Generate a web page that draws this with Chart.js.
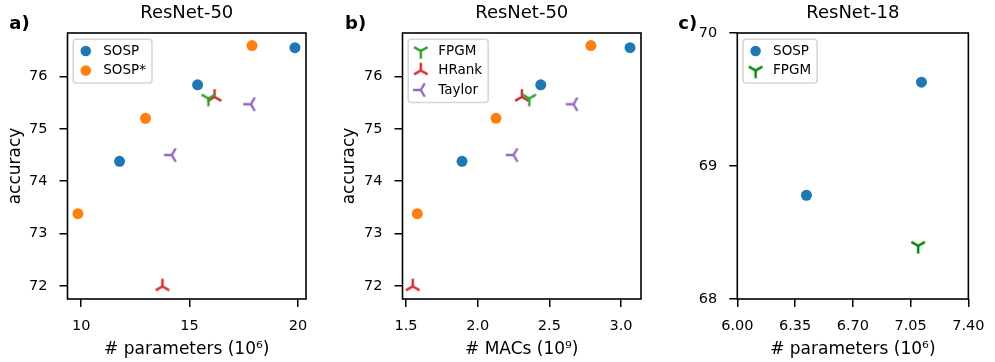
<!DOCTYPE html>
<html>
<head>
<meta charset="utf-8">
<script src="https://cdn.jsdelivr.net/npm/chart.js@4/dist/chart.umd.min.js"></script>
<style>
  html, body { margin: 0; padding: 0; background: #fff; }
  #wrap { position: relative; width: 995px; height: 362px; }
  .panel { position: absolute; top: 0; height: 362px; }
</style>
</head>
<body>
<div id="wrap">
  <div class="panel" style="left:0;width:330px"><canvas id="chartA"></canvas></div>
  <div class="panel" style="left:330px;width:330px"><canvas id="chartB"></canvas></div>
  <div class="panel" style="left:660px;width:335px"><canvas id="chartC"></canvas></div>
</div>
<script>
// ResNet-50 accuracy (shared by panels a and b)
const sospAcc      = [74.38, 75.84, 76.55];
const sospStarAcc  = [73.38, 75.20, 76.59];
const fpgmAcc      = [75.58];
const hrankAcc     = [75.61, 71.99];
const taylorAcc    = [74.50, 75.47];

// panel a: # parameters (10^6)
const sospParams     = [11.77, 15.37, 19.86];
const sospStarParams = [9.85, 12.97, 17.88];
const fpgmParams     = [15.87];
const hrankParams    = [16.15, 13.75];
const taylorParams   = [14.18, 17.83];

// panel b: # MACs (10^9)
const sospMacs     = [1.891, 2.44, 3.063];
const sospStarMacs = [1.579, 2.128, 2.79];
const fpgmMacs     = [2.36];
const hrankMacs    = [2.308, 1.547];
const taylorMacs   = [2.25, 2.669];

// panel c: ResNet-18
const sosp18Params = [6.419, 7.116];
const sosp18Acc    = [68.78, 69.63];
const fpgm18Params = [7.096];
const fpgm18Acc    = [68.40];

// ticks
const accTicks     = [72, 73, 74, 75, 76];
const paramTicks   = [10, 15, 20];
const macTicks     = [1.5, 2.0, 2.5, 3.0];
const acc18Ticks   = [68, 69, 70];
const param18Ticks = [6.00, 6.35, 6.70, 7.05, 7.40];

const FONT = '"DejaVu Sans", sans-serif';
const C = { blue: '#1f77b4', orange: '#ff7f0e', green: '#2ca02c', red: '#d62728', purple: '#9467bd', dgreen: '#008000' };

// matplotlib tri markers ('1' down, '2' up, '3' left)
function triMarker(kind, color) {
  const L = 7.8, c = document.createElement('canvas');
  c.width = 20; c.height = 20;
  const g = c.getContext('2d');
  g.strokeStyle = color;
  g.lineWidth = 2.4;
  const arms = {
    down: [[0, 1], [-0.866, -0.5], [0.866, -0.5]],
    up:   [[0, -1], [-0.866, 0.5], [0.866, 0.5]],
    left: [[-1, 0], [0.5, -0.866], [0.5, 0.866]]
  }[kind];
  g.beginPath();
  arms.forEach(([dx, dy]) => { g.moveTo(10, 10); g.lineTo(10 + dx * L, 10 + dy * L); });
  g.stroke();
  return c;
}

function pts(xs, ys) {
  return xs.map((x, i) => ({ x: x, y: ys[i] }));
}

function circleSet(label, xs, ys, color) {
  return { label, data: pts(xs, ys), pointStyle: 'circle', pointRadius: 5.5,
           backgroundColor: color, borderWidth: 0, showLine: false };
}

function triSet(label, xs, ys, kind, color) {
  return { label, data: pts(xs, ys), pointStyle: triMarker(kind, color), pointRadius: 10,
           backgroundColor: color, borderColor: color, borderWidth: 0, showLine: false };
}

function axis(min, max, ticks, dec, fit, pad, title, titlePad) {
  return {
    type: 'linear', min, max,
    afterBuildTicks: s => { s.ticks = ticks.map(v => ({ value: v })); },
    afterFit: fit,
    grid: { display: true, drawOnChartArea: false, drawTicks: true, tickLength: 8, color: '#000', lineWidth: 1.5 },
    border: { display: false },
    ticks: { font: { family: FONT, size: 14.5 }, color: '#000', padding: pad,
             maxRotation: 0, autoSkip: false, callback: v => Number(v).toFixed(dec) },
    title: { display: !!title, text: title || '', color: '#000',
             font: { family: FONT, size: 17 }, padding: titlePad }
  };
}

function decor(title, letter, letterX, legendIdx) {
  return {
    id: 'decor',
    afterDraw(chart) {
      const ctx = chart.ctx, ca = chart.chartArea;
      ctx.save();
      ctx.strokeStyle = '#000';
      ctx.lineWidth = 1.6;
      ctx.strokeRect(ca.left, ca.top, ca.right - ca.left, ca.bottom - ca.top);

      ctx.fillStyle = '#000';
      ctx.textBaseline = 'alphabetic';
      ctx.font = '18px ' + FONT;
      ctx.textAlign = 'center';
      ctx.fillText(title, (ca.left + ca.right) / 2, 18.3);
      ctx.font = 'bold 18px ' + FONT;
      ctx.textAlign = 'left';
      ctx.fillText(letter, letterX, 29);

      // legend, upper left inside the axes
      ctx.font = '13.5px ' + FONT;
      const sets = legendIdx.map(i => chart.data.datasets[i]);
      const tw = Math.max(...sets.map(d => ctx.measureText(d.label).width));
      const bx = ca.left + 5.7, by = ca.top + 6.3;
      const bw = 30.1 + tw + 6, bh = 11.7 + 19.5 * (sets.length - 1) + 12.5;
      ctx.beginPath();
      ctx.roundRect(bx, by, bw, bh, 3);
      ctx.fillStyle = 'rgba(255,255,255,0.8)';
      ctx.fill();
      ctx.strokeStyle = 'rgba(204,204,204,0.8)';
      ctx.lineWidth = 1.6;
      ctx.stroke();
      sets.forEach((d, k) => {
        const y = ca.top + 18 + 19.5 * k, mx = ca.left + 18.3;
        if (d.pointStyle === 'circle') {
          ctx.beginPath();
          ctx.arc(mx, y, 5.3, 0, Math.PI * 2);
          ctx.fillStyle = d.backgroundColor;
          ctx.fill();
        } else {
          ctx.drawImage(d.pointStyle, mx - 10, y - 10);
        }
        ctx.fillStyle = '#000';
        ctx.textBaseline = 'middle';
        ctx.fillText(d.label, ca.left + 35.8, y);
      });
      ctx.restore();
    }
  };
}

function makeChart(id, datasets, xAxis, yAxis, rightPad, plugin) {
  return new Chart(document.getElementById(id), {
    type: 'scatter',
    data: { datasets },
    options: {
      responsive: true, maintainAspectRatio: false, animation: false, events: [],
      layout: { padding: { top: 33, right: rightPad, left: 0, bottom: 0 } },
      plugins: { legend: { display: false }, tooltip: { enabled: false } },
      scales: { x: xAxis, y: yAxis }
    },
    plugins: [plugin]
  });
}

// panel a
makeChart('chartA', [
    circleSet('SOSP', sospParams, sospAcc, C.blue),
    circleSet('SOSP*', sospStarParams, sospStarAcc, C.orange),
    triSet('FPGM', fpgmParams, fpgmAcc, 'down', C.green),
    triSet('HRank', hrankParams, hrankAcc, 'up', C.red),
    triSet('Taylor', taylorParams, taylorAcc, 'left', C.purple)
  ],
  axis(9.37, 20.37, paramTicks, 0, s => { s.height = 63; }, 10.5, '# parameters (10\u2076)', { top: 0, bottom: 2 }),
  axis(71.75, 76.83, accTicks, 0, s => { s.width = 67.5; }, 12, 'accuracy', { top: 5.8, bottom: 0 }),
  24, decor('ResNet-50', 'a)', 9.3, [0, 1]));

// panel b
makeChart('chartB', [
    circleSet('SOSP', sospMacs, sospAcc, C.blue),
    circleSet('SOSP*', sospStarMacs, sospStarAcc, C.orange),
    triSet('FPGM', fpgmMacs, fpgmAcc, 'down', C.green),
    triSet('HRank', hrankMacs, hrankAcc, 'up', C.red),
    triSet('Taylor', taylorMacs, taylorAcc, 'left', C.purple)
  ],
  axis(1.4756, 3.1395, macTicks, 1, s => { s.height = 63; }, 10.5, '# MACs (10\u2079)', { top: 0, bottom: 2 }),
  axis(71.75, 76.83, accTicks, 0, s => { s.width = 72.5; }, 12, 'accuracy', { top: 9.8, bottom: 0 }),
  19, decor('ResNet-50', 'b)', 15, [2, 3, 4]));

// panel c
makeChart('chartC', [
    circleSet('SOSP', sosp18Params, sosp18Acc, C.blue),
    triSet('FPGM', fpgm18Params, fpgm18Acc, 'down', C.dgreen)
  ],
  axis(6.0, 7.4, param18Ticks, 2, s => { s.height = 63; }, 10.5, '# parameters (10\u2076)', { top: 0, bottom: 2 }),
  axis(68, 70, acc18Ticks, 0, s => { s.width = 77.3; }, 12, null, { top: 0, bottom: 0 }),
  19.3, decor('ResNet-18', 'c)', 18.3, [0, 1]));
</script>
</body>
</html>
